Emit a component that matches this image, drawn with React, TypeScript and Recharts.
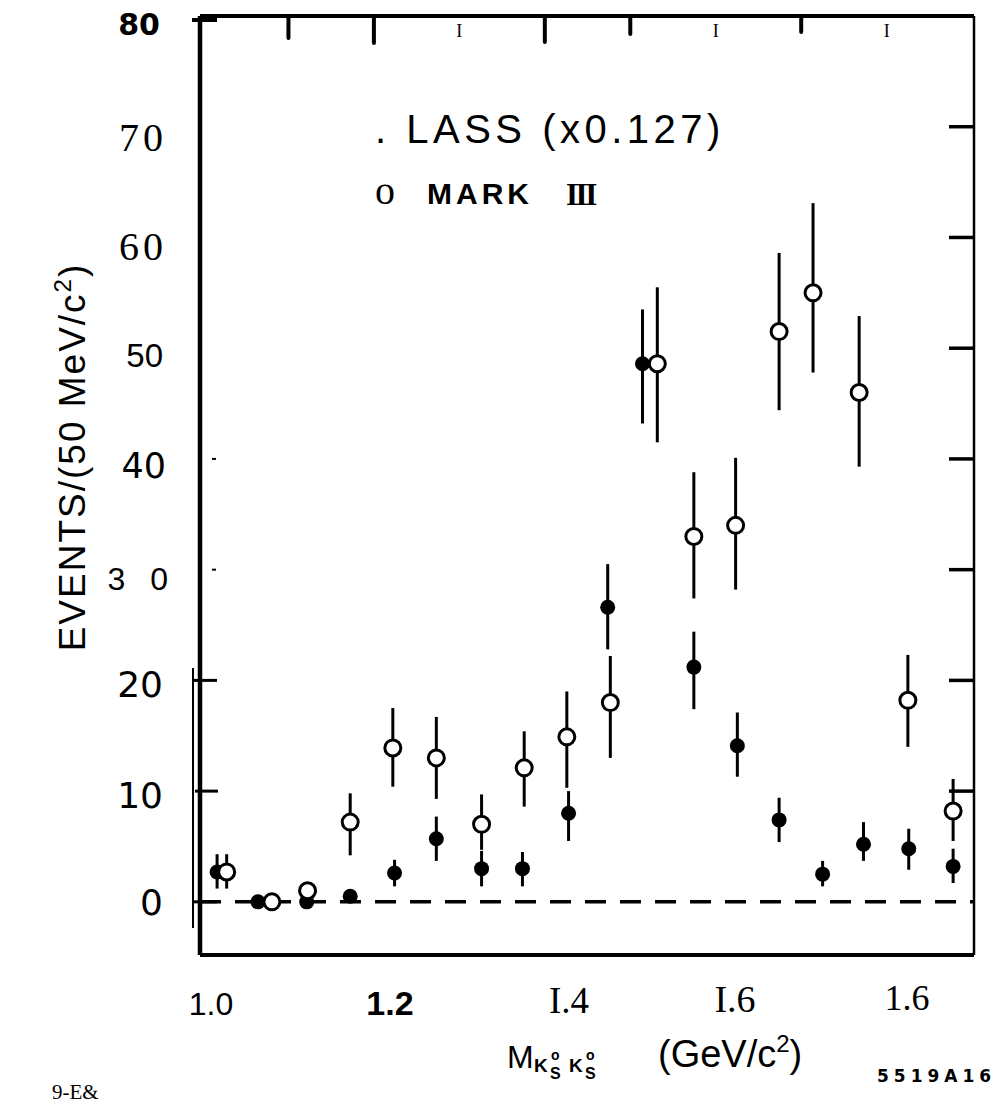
import React from 'react';
import { ScatterChart, Scatter, XAxis, YAxis, ErrorBar, ReferenceLine, Label } from 'recharts';

// LASS (filled) and MARK III (open) points
const lassMass = [1.007, 1.054, 1.11, 1.16, 1.211, 1.259, 1.311, 1.358, 1.411, 1.456, 1.496, 1.555, 1.605, 1.653, 1.703, 1.75, 1.802, 1.853];
const lassEvents = [2.7, 0.0, 0.0, 0.5, 2.6, 5.7, 3.0, 3.0, 8.0, 26.6, 48.6, 21.2, 14.1, 7.4, 2.5, 5.2, 4.8, 3.2];
const lassHigh = [4.3, 0.0, 0.0, 0.5, 3.8, 7.7, 4.6, 4.5, 10.0, 30.5, 53.5, 24.4, 17.1, 9.4, 3.7, 7.2, 6.6, 4.8];
const lassLow = [1.2, 0.0, 0.0, 0.5, 1.4, 3.7, 1.4, 1.4, 5.5, 22.8, 43.2, 17.4, 11.3, 5.4, 1.4, 3.7, 2.9, 1.7];

const markMass = [1.018, 1.07, 1.111, 1.16, 1.209, 1.259, 1.311, 1.36, 1.409, 1.459, 1.513, 1.555, 1.603, 1.653, 1.692, 1.745, 1.801, 1.853];
const markEvents = [2.7, 0.0, 1.0, 7.2, 13.9, 13.0, 7.0, 12.1, 14.9, 18.0, 48.6, 33.0, 34.0, 51.5, 55.0, 46.0, 18.2, 8.2];
const markHigh = [4.3, 0.0, 1.0, 9.8, 17.5, 16.7, 9.7, 15.4, 19.0, 22.2, 55.5, 38.8, 40.1, 58.6, 63.1, 52.9, 22.3, 11.1];
const markLow = [1.2, 0.0, 1.0, 4.2, 10.4, 9.3, 4.7, 8.6, 10.3, 13.0, 41.5, 27.4, 28.2, 44.4, 47.8, 39.3, 14.0, 5.5];

const yTicks = [0, 10, 20, 30, 40, 50, 60, 70, 80];
const yTickLabels = ['0', '10', '20', '3 0', '40', '50', '60', '70', '80'];
const rightTicks = [10, 20, 30, 40, 50, 60, 70];
const xTicks = [1.0, 1.2, 1.4, 1.6, 1.8];
const xTickLabels = ['1.0', '1.2', 'I.4', 'I.6', '1.6'];
const topTicks = [1.1, 1.2, 1.3, 1.4, 1.5, 1.6, 1.7, 1.8];

const toRows = (mass: number[], ev: number[], hi: number[], lo: number[]) =>
  mass.map((m, i) => ({ m, v: ev[i], err: [ev[i] - lo[i], hi[i] - ev[i]] }));

const lassData = toRows(lassMass, lassEvents, lassHigh, lassLow);
const markData = toRows(markMass, markEvents, markHigh, markLow);

const SANS = '"Liberation Sans", Arial, sans-serif';
const SERIF = '"Liberation Serif", "Times New Roman", serif';
const DEJAVU = '"DejaVu Sans", sans-serif';

// the scanned tick labels come in mixed fonts
const leftFonts = [
  { family: DEJAVU, size: 36, weight: 400, spacing: 0, base: 13, dx: 0 },
  { family: DEJAVU, size: 36, weight: 400, spacing: 0, base: 17, dx: 0 },
  { family: DEJAVU, size: 36, weight: 400, spacing: 0, base: 17, dx: 0 },
  { family: SANS, size: 32, weight: 400, spacing: 8, base: 20, dx: 13 },
  { family: DEJAVU, size: 35, weight: 400, spacing: 0, base: 19, dx: 3 },
  { family: SANS, size: 33, weight: 400, spacing: 0, base: 19, dx: 0 },
  { family: SERIF, size: 40, weight: 400, spacing: 4, base: 23, dx: 4 },
  { family: SERIF, size: 40, weight: 400, spacing: 4, base: 24, dx: 4 },
  { family: DEJAVU, size: 30, weight: 700, spacing: 0, base: 19, dx: -3 },
];
// [from, to, width] relative to the frame, null = no mark
const leftMarks: (number[] | null)[] = [
  [-7, 17, 3], [-5, 18, 3], [-7, 17, 3], [12, 16, 2], [12, 16, 2], null, null, null, [-8, 17, 4],
];
const bottomFonts = [
  { family: SANS, size: 32, weight: 400, base: 60, dx: 0 },
  { family: SANS, size: 34, weight: 700, base: 60, dx: 5 },
  { family: SERIF, size: 37, weight: 400, base: 58, dx: 10 },
  { family: SERIF, size: 38, weight: 400, base: 57, dx: 2 },
  { family: SERIF, size: 36, weight: 400, base: 55, dx: 0 },
];
// 0 = thin serif "I" instead of a stroke
const topLens = [22, 27, 0, 26, 18, 0, 16, 0];

const LeftTick = (props: any) => {
  const { x, y, index } = props;
  const f = leftFonts[index];
  const mk = leftMarks[index];
  const my = index === 8 ? y + 4 : y;
  return (
    <g>
      {mk && <line x1={x + mk[0]} x2={x + mk[1]} y1={my} y2={my} stroke="#000" strokeWidth={mk[2]} />}
      <text x={x - 37 + f.dx} y={y + f.base} textAnchor="end" fontFamily={f.family} fontSize={f.size}
        fontWeight={f.weight} letterSpacing={f.spacing} fill="#000">
        {yTickLabels[index]}
      </text>
    </g>
  );
};

const RightTick = (props: any) => (
  <line x1={props.x - 25} x2={props.x} y1={props.y} y2={props.y} stroke="#000" strokeWidth={3.5} />
);

const BottomTick = (props: any) => {
  const { x, y, index } = props;
  const f = bottomFonts[index];
  return (
    <text x={x + f.dx} y={y + f.base} textAnchor="middle" fontFamily={f.family} fontSize={f.size}
      fontWeight={f.weight} fill="#000">
      {xTickLabels[index]}
    </text>
  );
};

const TopTick = (props: any) => {
  const { x, y, index } = props;
  const len = topLens[index];
  if (!len) {
    return <text x={x} y={y + 21} textAnchor="middle" fontFamily={SERIF} fontSize={18} fill="#000">I</text>;
  }
  return <line x1={x} x2={x} y1={y} y2={y + len} stroke="#000" strokeWidth={4} strokeLinecap="round" />;
};

const FilledDot = (props: any) => <circle cx={props.cx} cy={props.cy} r={7.5} fill="#000" />;
const OpenDot = (props: any) => <circle cx={props.cx} cy={props.cy} r={8} fill="#fff" stroke="#000" strokeWidth={3} />;
const NoDot = () => <g />;

const YTitle = () => {
  const x = 85;
  const y = 457;
  return (
    <text x={x} y={y} transform={`rotate(-90 ${x} ${y})`} textAnchor="middle" fontFamily={SANS}
      fontSize={37} letterSpacing={2} fill="#000">
      EVENTS/(50 MeV/c<tspan fontSize={24} dy={-14}>2</tspan><tspan dy={14}>)</tspan>
    </text>
  );
};

const XTitle = () => {
  const x = 507;
  const y = 1068;
  return (
    <g fill="#000">
      <text x={x} y={y} fontFamily={SANS} fontSize={32}>M</text>
      <text x={x + 27} y={y + 4} fontFamily={SANS} fontSize={19} fontWeight={700}>K</text>
      <text x={x + 44} y={y - 8} fontFamily={SANS} fontSize={14} fontWeight={700}>o</text>
      <text x={x + 43} y={y + 11} fontFamily={SANS} fontSize={16} fontWeight={700}>S</text>
      <text x={x + 62} y={y + 4} fontFamily={SANS} fontSize={19} fontWeight={700}>K</text>
      <text x={x + 79} y={y - 8} fontFamily={SANS} fontSize={14} fontWeight={700}>o</text>
      <text x={x + 78} y={y + 11} fontFamily={SANS} fontSize={16} fontWeight={700}>S</text>
      <text x={x + 151} y={y - 1} fontFamily={SANS} fontSize={38}>
        (GeV/c<tspan fontSize={24} dy={-15}>2</tspan><tspan dy={15}>)</tspan>
      </text>
    </g>
  );
};

export default function App() {
  return (
    <div style={{ position: 'absolute', left: 0, top: 0, width: 1000, height: 1106, background: '#fff' }}>
      <ScatterChart width={1000} height={1106} margin={{ top: 15, right: 25, bottom: 91, left: 0 }}>
        <XAxis xAxisId="bottom" dataKey="m" type="number" domain={[0.98736, 1.87701]} allowDataOverflow
          ticks={xTicks} tick={<BottomTick />} tickLine={false} tickSize={0} tickMargin={0} height={60}
          axisLine={{ stroke: '#000', strokeWidth: 4 }}>
          <Label content={() => <XTitle />} />
        </XAxis>
        <XAxis xAxisId="top" dataKey="m" orientation="top" type="number" domain={[0.9965, 1.9022]} allowDataOverflow
          ticks={topTicks} tick={<TopTick />} tickLine={false} tickSize={0} tickMargin={0} height={1}
          axisLine={{ stroke: '#000', strokeWidth: 4 }} />
        <YAxis yAxisId="left" dataKey="v" type="number" domain={[-4.8, 80]} allowDataOverflow
          ticks={yTicks} tick={<LeftTick />} tickLine={false} tickSize={0} tickMargin={0} width={200}
          axisLine={{ stroke: '#000', strokeWidth: 4.5 }}>
          <Label content={() => <YTitle />} />
        </YAxis>
        <YAxis yAxisId="right" dataKey="v" orientation="right" type="number" domain={[-4.8, 80]} allowDataOverflow
          ticks={rightTicks} tick={<RightTick />} tickLine={false} tickSize={0} tickMargin={0} width={1}
          axisLine={{ stroke: '#000', strokeWidth: 2.5 }} />
        <ReferenceLine xAxisId="bottom" yAxisId="left" y={0} stroke="#000" strokeWidth={3.5} strokeDasharray="21 14" />
        {/* invisible series so the top frame scale is set up */}
        <Scatter data={lassData} xAxisId="top" yAxisId="left" shape={NoDot} legendType="none" isAnimationActive={false} />
        <Scatter name="LASS (x0.127)" data={lassData} xAxisId="bottom" yAxisId="left" shape={FilledDot} isAnimationActive={false}>
          <ErrorBar dataKey="err" direction="y" width={0} stroke="#000" strokeWidth={3} isAnimationActive={false} />
        </Scatter>
        <Scatter name="MARK III" data={markData} xAxisId="bottom" yAxisId="right" shape={OpenDot} isAnimationActive={false}>
          <ErrorBar dataKey="err" direction="y" width={0} stroke="#000" strokeWidth={3} isAnimationActive={false} />
        </Scatter>
      </ScatterChart>
      <svg width={1000} height={1106} style={{ position: 'absolute', left: 0, top: 0, pointerEvents: 'none' }}>
        <line x1={193} x2={193} y1={668} y2={928} stroke="#000" strokeWidth={2} />
        <text x={375} y={143} fontFamily={SANS} fontSize={40} letterSpacing={4.5} fill="#000">. LASS (x0.127)</text>
        <text x={375} y={204} fontFamily={SERIF} fontSize={40} fill="#000">o</text>
        <text x={427} y={204} fontFamily={SANS} fontSize={30} fontWeight={700} letterSpacing={4} fill="#000">MARK</text>
        <text x={566} y={205} fontFamily={SERIF} fontSize={31} fontWeight={700} letterSpacing={-2.5} fill="#000">III</text>
        <text x={877} y={1082} fontFamily={DEJAVU} fontSize={17} fontWeight={700} letterSpacing={5} fill="#000">5519A16</text>
        <text x={52} y={1099} fontFamily={SERIF} fontSize={21} fill="#000">9-E&amp;</text>
      </svg>
    </div>
  );
}
